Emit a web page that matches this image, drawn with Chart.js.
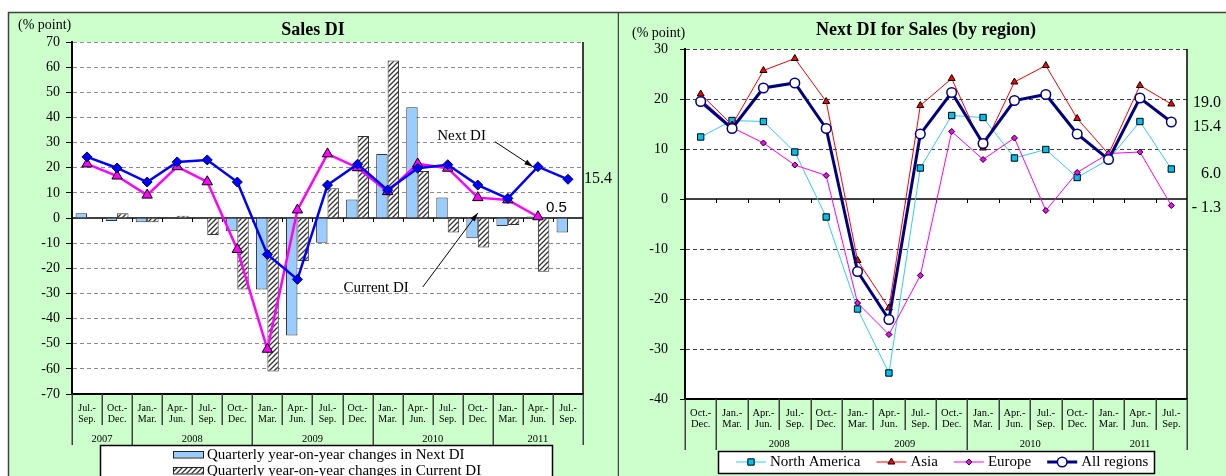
<!DOCTYPE html>
<html>
<head>
<meta charset="utf-8">
<script src="https://cdn.jsdelivr.net/npm/chart.js@4"></script>
<style>
  body { margin: 0; background: #fff; }
  #wrap { position: relative; width: 1226px; height: 476px; overflow: hidden; }
  canvas { position: absolute; top: 0; }
  #salesChart { left: 0; }
  #regionChart { left: 619px; }
</style>
</head>
<body>
<div id="wrap">
  <canvas id="salesChart" width="619" height="476"></canvas>
  <canvas id="regionChart" width="607" height="476"></canvas>
</div>
<script>
const SERIF = "'Liberation Serif', 'Times New Roman', serif";
const SANS = "'Liberation Sans', Arial, sans-serif";

// ---- Sales DI (left panel) ----
const salesQuarters = [
  ['Jul.-', 'Sep.'], ['Oct.-', 'Dec.'],
  ['Jan.-', 'Mar.'], ['Apr.-', 'Jun.'], ['Jul.-', 'Sep.'], ['Oct.-', 'Dec.'],
  ['Jan.-', 'Mar.'], ['Apr.-', 'Jun.'], ['Jul.-', 'Sep.'], ['Oct.-', 'Dec.'],
  ['Jan.-', 'Mar.'], ['Apr.-', 'Jun.'], ['Jul.-', 'Sep.'], ['Oct.-', 'Dec.'],
  ['Jan.-', 'Mar.'], ['Apr.-', 'Jun.'], ['Jul.-', 'Sep.']
];
const salesYears = ['2007', '2008', '2009', '2010', '2011'];
const salesYearSpans = [2, 4, 4, 4, 3];
const nextDI = [24.3, 19.9, 14.3, 22.3, 23.1, 14.3, -14.5, -24.4, 13.1, 21.4, 11.1, 19.8, 21.2, 13.1, 7.8, 20.4, 15.4];
const currentDI = [21.5, 16.7, 9.1, 20.4, 14.4, -12.5, -52.2, 3.2, 25.5, 20.0, 10.5, 21.5, 19.8, 8.1, 7.2, 0.5, null];
const nextDIChange = [1.9, -1.2, -1.7, -0.3, -0.3, -5.3, -28.4, -46.7, -9.8, 7.4, 25.5, 44.0, 8.2, -8.1, -3.2, 0.6, -5.8];
const currentDIChange = [null, 1.9, -1.7, 0.9, -6.8, -28.4, -61.1, -17.1, 11.8, 32.6, 62.6, 18.7, -5.8, -11.7, -2.8, -21.4, null];

// ---- Next DI by region (right panel) ----
const regionQuarters = [
  ['Oct.-', 'Dec.'],
  ['Jan.-', 'Mar.'], ['Apr.-', 'Jun.'], ['Jul.-', 'Sep.'], ['Oct.-', 'Dec.'],
  ['Jan.-', 'Mar.'], ['Apr.-', 'Jun.'], ['Jul.-', 'Sep.'], ['Oct.-', 'Dec.'],
  ['Jan.-', 'Mar.'], ['Apr.-', 'Jun.'], ['Jul.-', 'Sep.'], ['Oct.-', 'Dec.'],
  ['Jan.-', 'Mar.'], ['Apr.-', 'Jun.'], ['Jul.-', 'Sep.']
];
const regionYears = ['', '2008', '2009', '2010', '2011'];
const regionYearSpans = [1, 4, 4, 4, 3];
const northAmerica = [12.4, 15.7, 15.5, 9.4, -3.6, -22.0, -34.8, 6.2, 16.7, 16.3, 8.2, 9.9, 4.3, 7.9, 15.5, 6.0];
const asia = [21.0, 14.8, 25.7, 28.1, 19.5, -12.3, -21.8, 18.7, 24.1, 10.2, 23.4, 26.7, 16.1, 9.0, 22.7, 19.0];
const europe = [20.0, 14.3, 11.2, 6.8, 4.7, -20.8, -27.1, -15.3, 13.5, 7.9, 12.2, -2.3, 5.3, 9.1, 9.4, -1.3];
const allRegions = [19.5, 14.1, 22.2, 23.2, 14.1, -14.5, -24.1, 13.0, 21.3, 11.1, 19.7, 20.9, 13.0, 7.9, 20.2, 15.4];

function hatchPattern() {
  const c = document.createElement('canvas');
  c.width = 5; c.height = 5;
  const g = c.getContext('2d');
  g.fillStyle = '#ffffff';
  g.fillRect(0, 0, 5, 5);
  g.strokeStyle = '#333333';
  g.lineWidth = 1.3;
  g.beginPath();
  g.moveTo(-1, 6); g.lineTo(6, -1);
  g.moveTo(-1, 1); g.lineTo(1, -1);
  g.moveTo(4, 6); g.lineTo(6, 4);
  g.stroke();
  return g.createPattern(c, 'repeat');
}
const hatch = hatchPattern();

function line(ctx, x1, y1, x2, y2) {
  ctx.beginPath();
  ctx.moveTo(x1, y1);
  ctx.lineTo(x2, y2);
  ctx.stroke();
}

function arrow(ctx, x1, y1, x2, y2) {
  ctx.lineWidth = 1;
  line(ctx, x1, y1, x2, y2);
  const a = Math.atan2(y2 - y1, x2 - x1);
  ctx.beginPath();
  ctx.moveTo(x2, y2);
  ctx.lineTo(x2 - 9 * Math.cos(a - 0.3), y2 - 9 * Math.sin(a - 0.3));
  ctx.lineTo(x2 - 9 * Math.cos(a + 0.3), y2 - 9 * Math.sin(a + 0.3));
  ctx.closePath();
  ctx.fill();
}

// zero line, little ticks on it and the right edge of the plot
function drawFrame(chart) {
  const {ctx, chartArea: a, scales: {x, y}} = chart;
  const n = x.getLabels().length;
  const half = (x.getPixelForValue(1) - x.getPixelForValue(0)) / 2;
  const y0 = y.getPixelForValue(0);
  ctx.save();
  ctx.strokeStyle = '#000';
  ctx.lineWidth = 1.5;
  line(ctx, a.left, y0, a.right, y0);
  line(ctx, a.right, a.top, a.right, a.bottom);
  ctx.lineWidth = 1;
  for (let i = 1; i < n; i++) {
    const px = Math.round(x.getPixelForValue(i) - half) + 0.5;
    line(ctx, px, y0, px, y0 + 4);
  }
  ctx.restore();
}

// boxes under the category labels and the year row
function drawCategoryBoxes(chart, years, spans, shortDrop, longDrop, yearY) {
  const {ctx, chartArea: a, scales: {x}} = chart;
  const n = x.getLabels().length;
  const half = (x.getPixelForValue(1) - x.getPixelForValue(0)) / 2;
  const edge = i => x.getPixelForValue(i) - half;
  const starts = [0];
  spans.forEach(s => starts.push(starts[starts.length - 1] + s));
  ctx.save();
  ctx.strokeStyle = '#404040';
  ctx.lineWidth = 1.5;
  for (let i = 0; i <= n; i++) {
    const px = Math.round(edge(i)) + 0.25;
    const drop = starts.includes(i) ? longDrop : shortDrop;
    line(ctx, px, a.bottom, px, a.bottom + drop);
  }
  ctx.fillStyle = '#000';
  ctx.font = `10.5px ${SERIF}`;
  ctx.textAlign = 'center';
  ctx.textBaseline = 'middle';
  years.forEach((yr, k) => {
    if (!yr) return;
    ctx.fillText(yr, (edge(starts[k]) + edge(starts[k + 1])) / 2, yearY);
  });
  ctx.restore();
}

const salesDecor = {
  id: 'salesDecor',
  beforeDraw(chart) {
    const {ctx, chartArea: a} = chart;
    ctx.save();
    ctx.fillStyle = '#ccffcc';
    ctx.fillRect(8, 12, 611, 470);
    ctx.strokeStyle = '#404040';
    ctx.lineWidth = 1.5;
    ctx.strokeRect(8.5, 12.5, 610, 470);
    ctx.fillStyle = '#fff';
    ctx.fillRect(a.left, a.top, a.width, a.height);
    ctx.fillStyle = '#000';
    ctx.font = `14px ${SERIF}`;
    ctx.textAlign = 'left';
    ctx.textBaseline = 'middle';
    ctx.fillText('(% point)', 18, 25);
    ctx.font = `bold 18px ${SERIF}`;
    ctx.textAlign = 'center';
    ctx.textBaseline = 'alphabetic';
    ctx.fillText('Sales DI', 313, 35);
    ctx.restore();
  },
  beforeDatasetsDraw(chart) {
    drawFrame(chart);
  },
  afterDraw(chart) {
    const {ctx, chartArea: a, scales: {x, y}} = chart;
    drawCategoryBoxes(chart, salesYears, salesYearSpans, 31, 51, 439);
    ctx.save();
    ctx.fillStyle = '#000';
    ctx.strokeStyle = '#000';

    // Next DI annotation
    const ni = nextDI.length - 2;
    const tx = x.getPixelForValue(ni) - 5, ty = y.getPixelForValue(nextDI[ni]);
    arrow(ctx, tx - 38, ty - 25, tx, ty);
    ctx.font = `15px ${SERIF}`;
    ctx.textAlign = 'right';
    ctx.textBaseline = 'middle';
    ctx.fillText('Next DI', tx - 47, ty - 31);

    // Current DI annotation
    const cx = x.getPixelForValue(13), cy = y.getPixelForValue(2);
    arrow(ctx, cx - 55, cy + 74, cx, cy);
    ctx.fillText('Current DI', cx - 69, cy + 75);

    // end values
    const lastNext = nextDI[nextDI.length - 1];
    ctx.textAlign = 'left';
    ctx.font = `16px ${SERIF}`;
    ctx.fillText(lastNext.toFixed(1), a.right + 1, y.getPixelForValue(lastNext));
    const ci = currentDI.filter(v => v !== null).length - 1;
    ctx.font = `15px ${SANS}`;
    ctx.fillText(currentDI[ci].toFixed(1), x.getPixelForValue(ci) + 8, y.getPixelForValue(currentDI[ci]) - 9);

    // legend
    ctx.fillStyle = '#fff';
    ctx.fillRect(100, 445, 452, 40);
    ctx.lineWidth = 1.5;
    ctx.strokeRect(100.5, 445.5, 452, 40);
    const ds = chart.data.datasets;
    [ds[2], ds[3]].forEach((d, k) => {
      const ry = 451 + k * 16;
      ctx.fillStyle = d.backgroundColor;
      ctx.fillRect(173, ry, 30, 6.5);
      ctx.strokeStyle = '#222';
      ctx.lineWidth = 1;
      ctx.strokeRect(173.5, ry + 0.5, 30, 6.5);
      ctx.fillStyle = '#000';
      ctx.font = `15px ${SERIF}`;
      ctx.textAlign = 'left';
      ctx.textBaseline = 'middle';
      ctx.fillText(d.label, 207, ry + 4);
    });
    ctx.restore();
  }
};

const regionDecor = {
  id: 'regionDecor',
  beforeDraw(chart) {
    const {ctx, chartArea: a} = chart;
    ctx.save();
    ctx.fillStyle = '#ccffcc';
    ctx.fillRect(0, 12, 607, 470);
    ctx.strokeStyle = '#404040';
    ctx.lineWidth = 1.5;
    line(ctx, 0, 12.5, 607, 12.5);
    ctx.fillStyle = '#fff';
    ctx.fillRect(a.left, a.top, a.width, a.height);
    ctx.fillStyle = '#000';
    ctx.font = `14px ${SERIF}`;
    ctx.textAlign = 'left';
    ctx.textBaseline = 'middle';
    ctx.fillText('(% point)', 13, 33);
    ctx.font = `bold 18px ${SERIF}`;
    ctx.textAlign = 'center';
    ctx.textBaseline = 'alphabetic';
    ctx.fillText('Next DI for Sales (by region)', 307, 35);
    ctx.restore();
  },
  beforeDatasetsDraw(chart) {
    drawFrame(chart);
  },
  afterDraw(chart) {
    const {ctx, scales: {y}} = chart;
    drawCategoryBoxes(chart, regionYears, regionYearSpans, 31, 51, 444);
    ctx.save();
    ctx.fillStyle = '#000';
    ctx.font = `16px ${SERIF}`;
    ctx.textAlign = 'right';
    ctx.textBaseline = 'middle';
    // end values at the right, nudged apart so they do not overlap
    const ends = [asia, allRegions, northAmerica, europe].map(s => s[s.length - 1]);
    const nudge = [-1, 5, 5, 2];
    ends.forEach((v, k) => {
      const txt = v < 0 ? '- ' + Math.abs(v).toFixed(1) : v.toFixed(1);
      ctx.fillText(txt, 602, y.getPixelForValue(v) + nudge[k]);
    });

    // legend
    ctx.fillStyle = '#fff';
    ctx.fillRect(99, 451, 436, 22);
    ctx.strokeStyle = '#000';
    ctx.lineWidth = 1.5;
    ctx.strokeRect(99.5, 451.5, 436, 22);
    let lx = 117;
    const ly = 462;
    ctx.font = `15px ${SERIF}`;
    ctx.textAlign = 'left';
    chart.data.datasets.forEach(d => {
      ctx.strokeStyle = d.borderColor;
      ctx.lineWidth = d.borderWidth;
      line(ctx, lx, ly, lx + 30, ly);
      ctx.fillStyle = d.pointBackgroundColor;
      ctx.strokeStyle = d.pointBorderColor;
      ctx.lineWidth = d.pointBorderWidth;
      Chart.helpers.drawPoint(ctx, {
        pointStyle: d.pointStyle, radius: d.pointRadius, borderWidth: d.pointBorderWidth
      }, lx + 15, ly);
      ctx.fillStyle = '#000';
      ctx.fillText(d.label, lx + 34, ly);
      lx += 34 + ctx.measureText(d.label).width + 16;
    });
    ctx.restore();
  }
};

function yScale(min, max, gridColor, width, tickLen, pad) {
  return {
    min: min, max: max,
    ticks: { stepSize: 10, color: '#000', font: { family: SERIF, size: 14 }, padding: pad },
    grid: {
      color: c => (c.tick.value === 0 || c.tick.value === min) ? 'rgba(0,0,0,0)' : gridColor,
      lineWidth: 1, tickLength: tickLen, tickColor: '#000', drawTicks: true
    },
    border: { color: '#000', width: 2, dash: [4, 3] },
    afterFit: s => { s.width = width; }
  };
}

function xScale(height, pad, size) {
  return {
    offset: true,
    ticks: {
      color: '#000', font: { family: SERIF, size: size, lineHeight: 1.1 },
      padding: pad, autoSkip: false, maxRotation: 0
    },
    grid: { display: false, drawTicks: false, tickLength: 0 },
    border: { color: '#000', width: 2 },
    afterFit: s => { s.height = height; }
  };
}

new Chart(document.getElementById('salesChart'), {
  data: {
    labels: salesQuarters,
    datasets: [
      {
        type: 'line', label: 'Next DI', data: nextDI,
        borderColor: '#0000ff', borderWidth: 2.5, tension: 0,
        pointStyle: 'rectRot', pointRadius: 5, pointBackgroundColor: '#0000ff',
        pointBorderColor: '#00005a', pointBorderWidth: 1, order: 0
      },
      {
        type: 'line', label: 'Current DI', data: currentDI,
        borderColor: '#ff00ff', borderWidth: 2.5, tension: 0,
        pointStyle: 'triangle', pointRadius: 6, pointBackgroundColor: '#ff00ff',
        pointBorderColor: '#000', pointBorderWidth: 1, order: 1
      },
      {
        type: 'bar', label: 'Quarterly year-on-year changes in Next DI', data: nextDIChange,
        backgroundColor: '#99ccff', borderColor: '#333', borderWidth: 1,
        categoryPercentage: 0.76, barPercentage: 1, order: 2
      },
      {
        type: 'bar', label: 'Quarterly year-on-year changes in Current DI', data: currentDIChange,
        backgroundColor: hatch, borderColor: '#333', borderWidth: 1,
        categoryPercentage: 0.76, barPercentage: 1, order: 3
      }
    ]
  },
  options: {
    responsive: false,
    animation: false,
    devicePixelRatio: 1,
    layout: { padding: { left: 0, right: 36, top: 42, bottom: 0 } },
    plugins: { legend: { display: false }, tooltip: { enabled: false } },
    scales: {
      x: xScale(82, 9, 10),
      y: yScale(-70, 70, '#8c8c8c', 72, 6, 6)
    }
  },
  plugins: [salesDecor]
});

function regionSet(label, data, color, width, style, radius, fill, edge, order) {
  return {
    label: label, data: data, borderColor: color, borderWidth: width, tension: 0,
    pointStyle: style, pointRadius: radius, pointBackgroundColor: fill,
    pointBorderColor: edge, pointBorderWidth: width > 2 ? 1.5 : 1, order: order
  };
}

new Chart(document.getElementById('regionChart'), {
  type: 'line',
  data: {
    labels: regionQuarters,
    datasets: [
      regionSet('North America', northAmerica, '#33ccff', 1, 'rect', 4.5, '#00c0f0', '#000', 3),
      regionSet('Asia', asia, '#ff0000', 1, 'triangle', 4, '#ff0000', '#000', 2),
      regionSet('Europe', europe, '#ff00ff', 1, 'rectRot', 3, '#ff00ff', '#000', 1),
      regionSet('All regions', allRegions, '#000080', 3, 'circle', 4.8, '#ffffff', '#000080', 0)
    ]
  },
  options: {
    responsive: false,
    animation: false,
    devicePixelRatio: 1,
    layout: { padding: { left: 0, right: 39, top: 49, bottom: 0 } },
    plugins: { legend: { display: false }, tooltip: { enabled: false } },
    scales: {
      x: xScale(77, 8, 10.5),
      y: yScale(-40, 30, '#404040', 66, 5, 12)
    }
  },
  plugins: [regionDecor]
});
</script>
</body>
</html>
